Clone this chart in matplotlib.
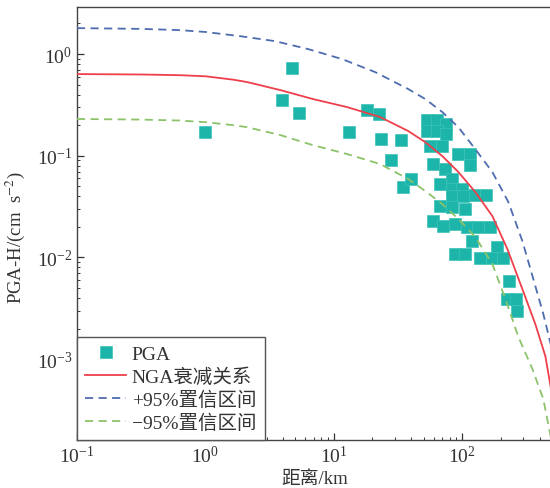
import matplotlib
matplotlib.use("Agg")
import matplotlib.pyplot as plt
from matplotlib.font_manager import FontProperties
from matplotlib.ticker import LogLocator, NullFormatter

plt.rcParams["font.family"] = ["Liberation Serif", "Noto Sans CJK SC", "DejaVu Sans"]
plt.rcParams["mathtext.fontset"] = "stix"

# observed PGA (distance km, PGA cm/s^2)
obs_dist = [1.0, 3.96, 4.74, 5.37, 13.2, 18.2, 22.6, 23.4, 28.0, 33.5, 34.7, 40.1,
            53.5, 64.0, 75.2, 53.5, 64.0, 75.2, 56.4, 70.0, 93.3, 115.7, 115.7,
            59.6, 73.8, 83.7, 67.5, 83.7, 100.2, 124.2, 154.2, 83.7, 102.1,
            67.5, 83.7, 105.7, 59.6, 71.3, 88.3, 109.6, 133.5, 165.5, 120.0,
            187.9, 88.3, 105.7, 138.4, 171.8, 209.1, 232.8, 224.7, 264.2, 268.5]
obs_pga = [0.171, 0.353, 0.728, 0.263, 0.171, 0.281, 0.257, 0.146, 0.0907, 0.143, 0.0492, 0.059,
           0.224, 0.224, 0.205, 0.175, 0.175, 0.163, 0.125, 0.125, 0.104, 0.104, 0.081,
           0.0828, 0.074, 0.059, 0.0527, 0.0471, 0.0471, 0.0411, 0.0411, 0.0402, 0.0402,
           0.032, 0.0313, 0.0299, 0.0228, 0.0204, 0.0213, 0.0199, 0.0199, 0.0199, 0.0145,
           0.0127, 0.0108, 0.0108, 0.00987, 0.00987, 0.00987, 0.00586, 0.0039, 0.0039, 0.00297]

# NGA attenuation curve and its 95% bounds
nga_dist = [0.1, 0.316, 0.635, 1.0, 1.65, 2.11, 3.82, 6.9, 12.7, 23.0, 38.0, 51.6, 70.0,
            93.3, 126.5, 171.8, 224.7, 294, 371, 444, 500]
nga_pga = [0.636, 0.63, 0.62, 0.605, 0.56, 0.531, 0.443, 0.361, 0.301, 0.240, 0.175, 0.136,
           0.0993, 0.0692, 0.044, 0.0255, 0.0121, 0.00489, 0.00221, 0.00107, 0.00045]

up_dist = [0.1, 0.316, 0.635, 1.0, 1.87, 3.49, 6.31, 11.6, 21.0, 38.0, 51.6, 70.0, 93.3,
           126.5, 171.8, 228.6, 294, 358, 428, 500]
up_pga = [1.80, 1.77, 1.72, 1.65, 1.50, 1.34, 1.12, 0.893, 0.665, 0.453, 0.361, 0.269, 0.191,
          0.116, 0.0691, 0.0351, 0.0145, 0.00613, 0.00278, 0.00125]

lo_dist = [0.1, 0.316, 0.635, 1.0, 1.65, 2.11, 3.82, 6.9, 12.7, 23.0, 38.0, 51.6, 70.0,
           93.3, 126.5, 171.8, 217, 274, 352, 428, 500]
lo_pga = [0.230, 0.227, 0.222, 0.214, 0.200, 0.191, 0.160, 0.127, 0.104, 0.0828, 0.059, 0.045,
          0.0335, 0.0239, 0.0159, 0.0086, 0.0039, 0.00165, 0.0008, 0.000405, 0.00015]

fig = plt.figure(figsize=(5.5, 4.89), dpi=100)
ax = fig.add_axes([0.14, 0.098, 0.8636, 0.8855])

pts, = ax.plot(obs_dist, obs_pga, "s", color="#1db5a9", ms=8, mec="#3cc3b8", mew=0.5,
               ls="none", zorder=2)
l1, = ax.plot(nga_dist, nga_pga, color="#ee3f4b", lw=1.3, zorder=3)
l2, = ax.plot(up_dist, up_pga, color="#4e6cb0", lw=1.3, dashes=(4.5, 3), zorder=3)
l3, = ax.plot(lo_dist, lo_pga, color="#8cc36a", lw=1.3, dashes=(4.5, 3), zorder=3)

ax.set_xscale("log")
ax.set_yscale("log")
ax.set_xlim(0.1, 500)
ax.set_ylim(1.6e-4, 2.9)

for a in (ax.xaxis, ax.yaxis):
    a.set_minor_locator(LogLocator(base=10, subs=range(2, 10), numticks=20))
    a.set_minor_formatter(NullFormatter())
ax.tick_params(which="both", direction="in", top=False, right=False,
               labelsize=14, colors="#333333", labelcolor="#333333")
ax.tick_params(which="major", length=5, width=0.9)
ax.tick_params(which="minor", length=2.5, width=0.7)
for s in ax.spines.values():
    s.set_color("#444444")
    s.set_linewidth(1.0)

ax.set_xlabel("距离/km", fontsize=13.5, color="#333333", labelpad=3)
ax.set_ylabel(r"PGA-H/(cm  s$^{-2}$)", fontsize=13.5, color="#333333")
ax.yaxis.set_label_coords(-0.105, 0.469)

leg = ax.legend([pts, l1, l2, l3], ["PGA", "NGA衰减关系", "+95%置信区间", "\u221295%置信区间"],
                loc="lower left", borderaxespad=0, fancybox=False, framealpha=1,
                edgecolor="#555555", handlelength=2.1, handletextpad=0.3,
                labelspacing=0.24, borderpad=0.42,
                prop=FontProperties(family=["Liberation Serif", "Noto Sans CJK SC"], size=14))
leg.get_frame().set_linewidth(1.0)
for t in leg.get_texts():
    t.set_color("#333333")

fig.savefig("out.png", dpi=100)
